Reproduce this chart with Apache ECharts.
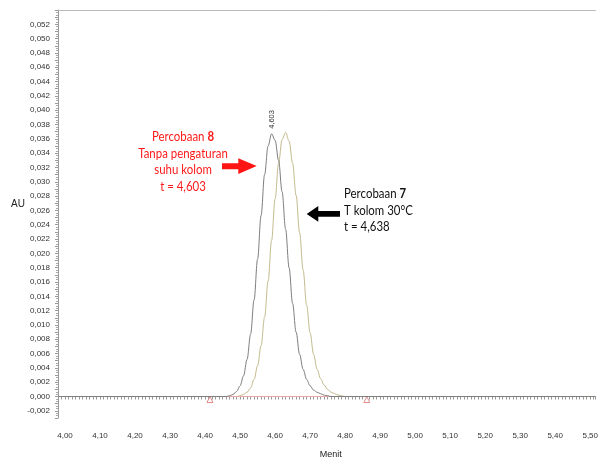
<!DOCTYPE html>
<html>
<head>
<meta charset="utf-8">
<script src="https://cdn.jsdelivr.net/npm/echarts@6/dist/echarts.min.js"></script>
<style>
html,body{margin:0;padding:0;background:#fff;}
#chart{width:601px;height:464px;}
</style>
</head>
<body>
<div id="chart"></div>
<script>
// Retention time (Menit)
var times = [3.98,
  4.43, 4.44, 4.45, 4.46, 4.47, 4.48, 4.49, 4.50, 4.51, 4.52,
  4.53, 4.54, 4.55, 4.56, 4.57, 4.58, 4.59, 4.60, 4.61, 4.62,
  4.63, 4.64, 4.65, 4.66, 4.67, 4.68, 4.69, 4.70, 4.71, 4.72,
  4.73, 4.74, 4.75, 4.76, 4.77, 4.78, 4.79, 4.80, 4.81, 4.82,
  5.515];
// Percobaan 8 (grey trace)
var percobaan8 = [0,
  0, 0, 0, 0, 0.0001, 0.0003, 0.0007, 0.0015, 0.0029, 0.0052,
  0.0087, 0.0135, 0.0192, 0.0253, 0.0310, 0.0350, 0.0367, 0.0358, 0.0330, 0.0286,
  0.0234, 0.0180, 0.0130, 0.0090, 0.0059, 0.0038, 0.0024, 0.0015, 0.0009, 0.0006,
  0.0004, 0.0002, 0.0001, 0, 0, 0, 0, 0, 0, 0,
  0];
// Percobaan 7 (olive trace)
var percobaan7 = [0,
  0, 0, 0, 0, 0, 0, 0, 0.0001, 0.0003, 0.0006,
  0.0012, 0.0024, 0.0043, 0.0071, 0.0111, 0.0161, 0.0218, 0.0276, 0.0326, 0.0359,
  0.0369, 0.0357, 0.0326, 0.0281, 0.0229, 0.0177, 0.0128, 0.0089, 0.0059, 0.0038,
  0.0025, 0.0016, 0.0010, 0.0006, 0.0004, 0.0002, 0.0001, 0, 0, 0,
  0];
// Integration baseline markers
var baselineTimes = [4.414, 4.862];
var baselineValues = [0, 0];
// Peak label
var peakTime = 4.591;
var peakValue = 0.0367;
var peakLabel = '4,603';

var xAxisName = 'Menit';
var yAxisName = 'AU';

function pairs(xs, ys) {
  var out = [];
  for (var i = 0; i < xs.length; i++) out.push([xs[i], ys[i]]);
  return out;
}

var chart = echarts.init(document.getElementById('chart'), null, {renderer: 'canvas'});
var lblFont = 'Liberation Sans, Arial, sans-serif';
var txtFont = 'Lato, sans-serif';

chart.setOption({
  animation: false,
  backgroundColor: '#fff',
  grid: {left: 58, right: -2, top: 10, bottom: 41, show: false},
  xAxis: [{
    type: 'value', min: 3.98, max: 5.515, interval: 0.01,
    name: xAxisName, nameLocation: 'middle', nameGap: 32,
    nameTextStyle: {fontSize: 9, color: '#222', fontFamily: lblFont, padding: [0, 0, 0, 8]},
    axisLine: {show: true, lineStyle: {color: '#999', width: 1}},
    axisTick: {show: true, interval: 0, length: 3, lineStyle: {color: '#999'}},
    splitLine: {show: false},
    axisLabel: {
      interval: 0, margin: 14, fontSize: 8, color: '#333', fontFamily: lblFont,
      formatter: function (v) {
        var r = Math.round(v * 100);
        if (r % 10 !== 0) return '';
        return (r / 100).toFixed(2).replace('.', ',');
      }
    }
  }, {
    type: 'value', position: 'top', min: 3.98, max: 5.515,
    axisLine: {show: true, onZero: false, lineStyle: {color: '#bbb', width: 1}},
    axisTick: {show: false}, axisLabel: {show: false}, splitLine: {show: false}
  }],
  yAxis: {
    type: 'value', min: -0.003, max: 0.054, interval: 0.001,
    axisLine: {show: true, lineStyle: {color: '#999', width: 1}},
    axisTick: {show: true, length: 3, lineStyle: {color: '#999'}},
    minorTick: {show: true, splitNumber: 3, length: 2, lineStyle: {color: '#aaa'}},
    splitLine: {show: false},
    axisLabel: {
      margin: 8, fontSize: 8, color: '#333', fontFamily: lblFont,
      formatter: function (v) {
        var r = Math.round(v * 1000);
        if (r % 2 !== 0 || r > 52) return '';
        return (r / 1000).toFixed(3).replace('.', ',');
      }
    }
  },
  series: [
    {
      type: 'line', name: 'Percobaan 7', data: pairs(times, percobaan7),
      showSymbol: false, smooth: 0.35, smoothMonotone: 'x',
      lineStyle: {color: '#c4ba8e', width: 1}, z: 2
    },
    {
      type: 'line', name: 'Baseline', data: pairs(baselineTimes, baselineValues),
      symbol: 'triangle', symbolSize: 6, symbolOffset: [0, 3], showSymbol: true,
      itemStyle: {color: '#fff', borderColor: '#e08c8c', borderWidth: 1},
      lineStyle: {color: '#eba8a8', width: 1}, z: 3
    },
    {
      type: 'line', name: 'Percobaan 8', data: pairs(times, percobaan8),
      showSymbol: false, smooth: 0.35, smoothMonotone: 'x',
      lineStyle: {color: '#7e7e7e', width: 1}, z: 4,
      markPoint: {
        symbol: 'circle', symbolSize: 0,
        data: [{coord: [peakTime, peakValue], value: peakLabel}],
        label: {
          show: true, position: 'top', distance: 5, rotate: 90,
          align: 'left', verticalAlign: 'middle',
          fontSize: 7.5, color: '#333', fontFamily: lblFont,
          formatter: function (p) { return p.value; }
        }
      }
    }
  ],
  graphic: [
    {type: 'text', left: 11, top: 199, style: {text: yAxisName, fontSize: 10, fill: '#222', fontFamily: lblFont}},
    {type: 'text', x: 183, y: 129, scaleX: 0.88, style: {
      text: 'Percobaan {b|8}\nTanpa pengaturan\nsuhu kolom\nt = 4,603',
      align: 'center', verticalAlign: 'top', fontSize: 13, lineHeight: 16.5,
      fill: '#ff1a1a', fontFamily: txtFont,
      rich: {b: {fontWeight: 'bold', fontSize: 13, fill: '#ff1a1a', fontFamily: txtFont}}
    }},
    {type: 'text', x: 344, y: 186, scaleX: 0.88, style: {
      text: 'Percobaan {b|7}\nT kolom 30°C\nt = 4,638',
      align: 'left', verticalAlign: 'top', fontSize: 13, lineHeight: 16.5,
      fill: '#111', fontFamily: txtFont,
      rich: {b: {fontWeight: 'bold', fontSize: 13, fill: '#111', fontFamily: txtFont}}
    }},
    {type: 'polygon', shape: {points: [[222,163.3],[238.3,163.3],[238.3,158.3],[256.7,166],[238.3,174],[238.3,169.3],[222,169.3]]},
      style: {fill: '#ff1414'}},
    {type: 'polygon', shape: {points: [[340,211],[318.3,211],[318.3,206],[306.7,214],[318.3,221.7],[318.3,216.7],[340,216.7]]},
      style: {fill: '#000'}}
  ]
});
</script>
</body>
</html>
